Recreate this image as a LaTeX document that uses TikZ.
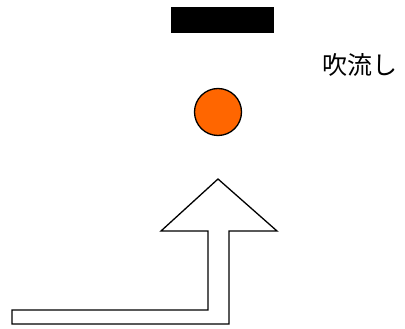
\documentclass[tikz,border=0pt]{standalone}
\usepackage{fontspec}
\newfontfamily\cjk{Noto Sans CJK JP}
\definecolor{ballorange}{HTML}{FF6600}
\begin{document}
\begin{tikzpicture}[x=1pt,y=-1pt,
  outline/.style={draw=black,line width=1.3pt,line join=miter},
  label/.style={font=\cjk\fontsize{25}{25}\selectfont,inner sep=0pt,anchor=west}]
\useasboundingbox (0,0) rectangle (405,329);
\fill[black] (171,7) rectangle (274,33);
\node[label] (txt) at (322,65) {吹流し};
\node[outline,fill=ballorange,circle,minimum size=47pt,inner sep=0pt] (ball) at (218,112) {};
\draw[outline,fill=white] (218,179) -- (277,231) -- (229,231) -- (229,324) -- (12,324) -- (12,310) -- (208,310) -- (208,231) -- (161,231) -- cycle;
\end{tikzpicture}
\end{document}
